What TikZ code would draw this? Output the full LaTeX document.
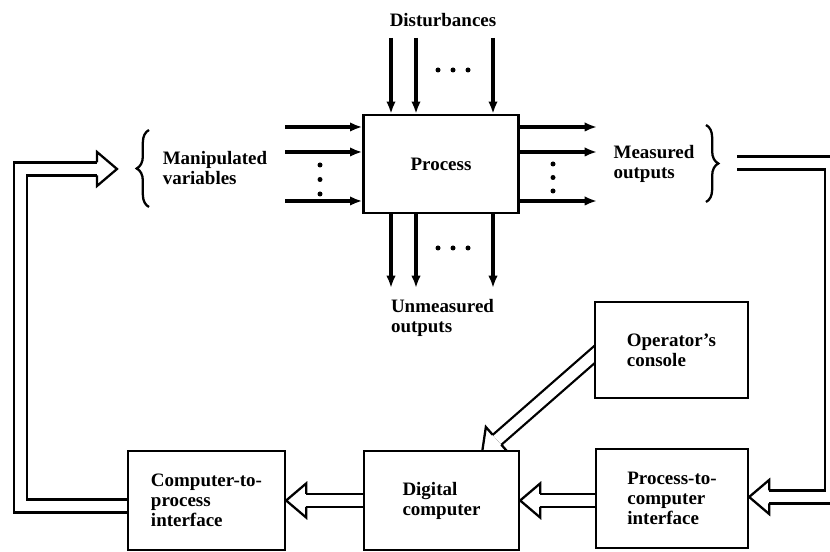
\documentclass[tikz,border=0pt]{standalone}
\usepackage{fontspec}
\setmainfont{Liberation Serif}
\usepackage{tikz}
\usetikzlibrary{calc, arrows.meta, decorations.pathreplacing, backgrounds}
\tikzset{>={Latex[length=7pt,width=5.4pt]}}
\newcommand{\diagfont}{\fontsize{10.8}{11.4}\selectfont\bfseries}
\tikzset{
  blockbox/.style={draw, line width=1.3pt, fill=white, minimum width=3.1cm, minimum height=1.98cm, align=left, font=\diagfont},
  tag/.style={align=left, font=\diagfont, inner sep=0pt},
  flow/.style={->, line width=2pt},
  pipe/.style={double, line width=1.3pt, double distance=0.26cm-1.3pt, line join=miter},
  pipeline/.style={line width=1.3pt, line join=miter},
  bracket/.style={decorate, decoration={brace, amplitude=7pt}, line width=1.3pt}
}
% open head of a double-line arrow: #1 point behind, #2 tip
\newcommand{\pipehead}[2]{%
  \coordinate (hb) at ($(#2)!0.4cm!(#1)$);
  \draw[pipeline] ($(hb)!0.13cm!90:(#2)$) -- ($(hb)!0.34cm!90:(#2)$) -- (#2)
    -- ($(hb)!0.34cm!-90:(#2)$) -- ($(hb)!0.13cm!-90:(#2)$);
}

\begin{document}
\begin{tikzpicture}
\useasboundingbox (0,0) rectangle (16.6,11.04);

% blocks
\node[blockbox, minimum height=1.96cm] (process) at (8.82,7.76) {Process};
\node[blockbox] (digital) at (8.83,1.03) {Digital\\computer};
\node[blockbox, minimum width=3.14cm] (cpi) at (4.13,1.03) {Computer-to-\\process\\interface};
\node[blockbox, minimum width=3.04cm] (pci) at (13.44,1.07) {Process-to-\\computer\\interface};
\node[blockbox, minimum width=3.06cm, minimum height=1.92cm] (console) at (13.43,4.04) {Operator's\\console};

% labels
\node[tag] (dist) at (8.86,10.64) {Disturbances};
\node[tag] (unmeas) at (8.85,4.68) {Unmeasured\\outputs};
\node[tag] (manip) at (4.3,7.68) {Manipulated\\variables};
\node[tag] (meas) at (13.08,7.76) {Measured\\outputs};

% disturbances and unmeasured outputs
\foreach \x [count=\i] in {7.82,8.32,9.86} {
  \coordinate (d\i) at (\x,10.28);
  \coordinate (u\i) at (\x,5.28);
  \draw[flow] (d\i) -- (d\i |- process.north);
  \draw[flow] (u\i |- process.south) -- (u\i);
}
% manipulated variables and measured outputs
\foreach \y [count=\i] in {8.5,8.0,7.02} {
  \coordinate (m\i) at (5.7,\y);
  \coordinate (o\i) at (11.94,\y);
  \draw[flow] (m\i) -- (m\i -| process.west);
  \draw[flow] (o\i -| process.east) -- (o\i);
}

% dots
\foreach \x in {8.76,9.06,9.36} {
  \fill (\x,9.64) circle (0.05);
  \fill (\x,6.08) circle (0.05);
}
\foreach \y/\z in {7.74/7.76, 7.45/7.49, 7.16/7.22} {
  \fill (6.4,\y) circle (0.05);
  \fill (11.06,\z) circle (0.05);
}

% braces
\draw[bracket] (2.98,6.9) -- (2.98,8.44);
\draw[bracket] (14.12,8.54) -- (14.12,7.0);

\begin{scope}[on background layer]
% feedback loop to the computer
\coordinate (mo) at (14.74,7.78);
\coordinate (rc) at (16.63,7.78);
\coordinate (pt) at ($(pci.east)+(0,0.03)$);
\coordinate (rb) at (rc |- pt);
\draw[pipe] (mo) -- (rc) -- (rb) -- ($(pt)!0.4cm!(rb)$);
\pipehead{rb}{pt}

% computer to process
\coordinate (ls) at (cpi.center |- 0,0.92);
\coordinate (lb) at (0.41,0.92);
\coordinate (lt) at (0.41,7.66);
\coordinate (mt) at (2.34,7.66);
\draw[pipe] (ls) -- (lb) -- (lt) -- ($(mt)!0.4cm!(lt)$);
\pipehead{lt}{mt}

\coordinate (pc) at (pci.center |- digital.east);
\draw[pipe] (pc) -- ($(digital.east)!0.4cm!(pc)$);
\pipehead{pc}{digital.east}

\coordinate (dc) at (digital.center |- cpi.east);
\draw[pipe] (dc) -- ($(cpi.east)!0.4cm!(dc)$);
\pipehead{dc}{cpi.east}

% operator's console
\coordinate (oc) at (12.13,4.16);
\coordinate (ot) at (9.64,1.98);
\draw[pipe] (oc) -- ($(ot)!0.4cm!(oc)$);
\pipehead{oc}{ot}
\end{scope}
\end{tikzpicture}
\end{document}
